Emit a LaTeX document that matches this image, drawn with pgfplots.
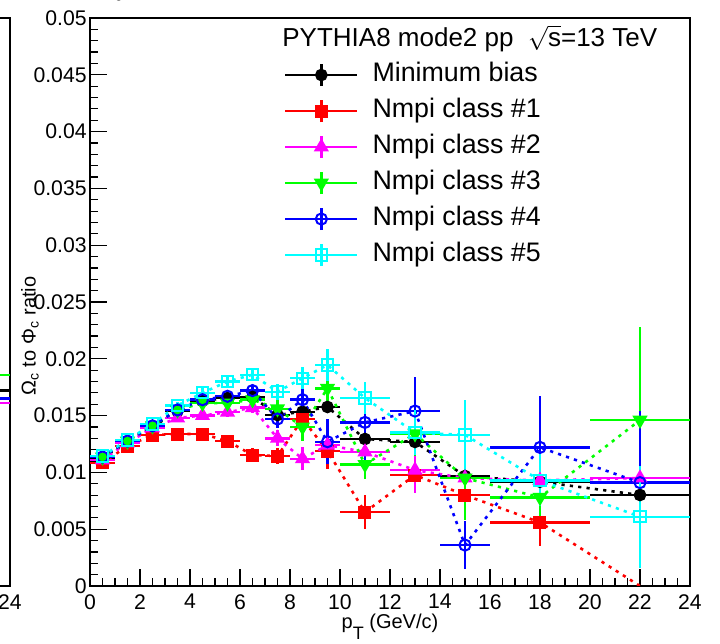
\documentclass[border=0pt]{standalone}
\usepackage{fontspec}
\setmainfont{Liberation Sans}
\usepackage{pgfplots}
\pgfplotsset{compat=1.18}
\usepackage{pgfplotstable}

\pgfplotstableread{
x y ex ey
0.5 0.01127 0.5 0.0002
1.5 0.01268 0.5 0.0002
2.5 0.01400 0.5 0.0002
3.5 0.01540 0.5 0.0002
4.5 0.01630 0.5 0.0002
5.5 0.01655 0.5 0.0003
6.5 0.01664 0.5 0.0003
7.5 0.01505 0.5 0.0003
8.5 0.01534 0.5 0.0004
9.5 0.01576 0.5 0.0004
11 0.01294 1 0.0004
13 0.01268 1 0.0005
15 0.00968 1 0.0006
18 0.00918 2 0.0005
22 0.00801 2 0.0006
}\mb

\pgfplotstableread{
x y ex ey
0.5 0.01083 0.5 0.0003
1.5 0.01232 0.5 0.0003
2.5 0.01329 0.5 0.0003
3.5 0.01338 0.5 0.0003
4.5 0.01338 0.5 0.0003
5.5 0.01276 0.5 0.0004
6.5 0.01153 0.5 0.0006
7.5 0.01144 0.5 0.0007
8.5 0.01470 0.5 0.0010
9.5 0.01188 0.5 0.0016
11 0.00650 1 0.0015
13 0.00977 1 0.0016
15 0.00800 1 0.0012
18 0.00560 2 0.0021
22 0.00000 0 0.0000
}\cA

\pgfplotstableread{
x y ex ey
0.5 0.0111 0.5 0.0003
1.5 0.0126 0.5 0.0003
2.5 0.0139 0.5 0.0003
3.5 0.0148 0.5 0.0003
4.5 0.0150 0.5 0.0003
5.5 0.0153 0.5 0.0004
6.5 0.0157 0.5 0.0005
7.5 0.0130 0.5 0.0007
8.5 0.0112 0.5 0.0010
9.5 0.0124 0.5 0.0015
11 0.0118 1 0.0013
13 0.0102 1 0.0020
15 0.0095 1 0.0025
18 0.0093 2 0.0030
22 0.0095 2 0.0040
}\cB

\pgfplotstableread{
x y ex ey
0.5 0.01136 0.5 0.0003
1.5 0.01276 0.5 0.0003
2.5 0.0141 0.5 0.0003
3.5 0.0155 0.5 0.0003
4.5 0.0161 0.5 0.0003
5.5 0.0161 0.5 0.0004
6.5 0.0164 0.5 0.0005
7.5 0.0156 0.5 0.0008
8.5 0.0140 0.5 0.0012
9.5 0.0174 0.5 0.0015
11 0.0107 1 0.0013
13 0.0134 1 0.0020
15 0.0095 1 0.0037
18 0.0078 2 0.0025
22 0.0146 2 0.0082
}\cC

\pgfplotstableread{
x y ex ey
0.5 0.01136 0.5 0.0003
1.5 0.01276 0.5 0.0003
2.5 0.0141 0.5 0.0003
3.5 0.0155 0.5 0.0003
4.5 0.0164 0.5 0.0003
5.5 0.0167 0.5 0.0004
6.5 0.0172 0.5 0.0005
7.5 0.0147 0.5 0.0008
8.5 0.0164 0.5 0.0010
9.5 0.0127 0.5 0.0020
11 0.0144 1 0.0035
13 0.0154 1 0.0030
15 0.0036 1 0.0021
18 0.0122 2 0.0045
22 0.0091 2 0.0063
}\cD

\pgfplotstableread{
x y ex ey
0.5 0.01144 0.5 0.0003
1.5 0.01285 0.5 0.0003
2.5 0.01426 0.5 0.0003
3.5 0.0159 0.5 0.0003
4.5 0.0170 0.5 0.0004
5.5 0.0180 0.5 0.0004
6.5 0.0186 0.5 0.0005
7.5 0.0171 0.5 0.0007
8.5 0.0183 0.5 0.0010
9.5 0.01945 0.5 0.0014
11 0.01655 1 0.0014
13 0.0135 1 0.0020
15 0.0133 1 0.0031
18 0.0093 2 0.0023
22 0.0061 2 0.0045
}\cE

\pgfplotstableread{
x y ex ey
22 0.0186 2 0.0005
}\lpA
\pgfplotstableread{
x y ex ey
22 0.0172 2 0.0005
}\lpB
\pgfplotstableread{
x y ex ey
22 0.0165 2 0.0005
}\lpC
\pgfplotstableread{
x y ex ey
22 0.0161 2 0.0005
}\lpD

\definecolor{rred}{RGB}{255,0,0}
\definecolor{rmag}{RGB}{255,0,255}
\definecolor{rgreen}{RGB}{0,255,0}
\definecolor{rblue}{RGB}{0,0,255}
\definecolor{rcyan}{RGB}{0,255,255}

\pgfplotsset{
  rootax/.style={
    width=300pt, height=284pt, scale only axis,
    xmin=0, xmax=24, ymin=0, ymax=0.05,
    axis line style={line width=1pt},
    tick align=inside, xtick pos=bottom, ytick pos=left,
    major tick length=8.5pt, minor tick length=4.2pt,
    every tick/.style={black, line width=0.6pt},
    xtick={0,2,4,6,8,10,12,14,16,18,20,22,24},
    xticklabels={0,2,4,6,8,10,12,14,16,18,20,22,24},
    minor x tick num=3,
    ytick={0,0.005,0.01,0.015,0.02,0.025,0.03,0.035,0.04,0.045,0.05},
    yticklabels={0,0.005,0.01,0.015,0.02,0.025,0.03,0.035,0.04,0.045,0.05},
    minor y tick num=4,
    /pgf/number format/assume math mode=true,
    ticklabel style={font=\fontsize{10.6}{12}\selectfont},
    xticklabel style={inner sep=1pt, yshift=-3pt},
    yticklabel style={inner sep=1.5pt},
    clip=true,
  },
  ser/.style={color=#1, line width=1.3pt, dash pattern=on 1.6pt off 2.6pt,
    /pgfplots/error bars/x dir=both, /pgfplots/error bars/x explicit,
    /pgfplots/error bars/y dir=both, /pgfplots/error bars/y explicit,
    /pgfplots/error bars/error mark=none,
    /pgfplots/error bars/error bar style={solid, line width=1.2pt, color=#1}},
}

\begin{document}
\begin{tikzpicture}
\begin{scope}
\clip (-45pt,-29pt) rectangle (315pt,293pt);
\begin{axis}[rootax, at={(-340pt,0pt)}, anchor=south west]
\addplot[ser=rgreen, mark=none] table[x=x, y=y, x error=ex, y error=ey] {\lpA};
\addplot[ser=black, mark=none] table[x=x, y=y, x error=ex, y error=ey] {\lpB};
\addplot[ser=rblue, mark=none] table[x=x, y=y, x error=ex, y error=ey] {\lpC};
\addplot[ser=rmag, mark=none] table[x=x, y=y, x error=ex, y error=ey] {\lpD};
\end{axis}
\end{scope}

\begin{axis}[rootax,
  xlabel={p\raisebox{-1.0ex}{\fontsize{9}{9}\selectfont T} (GeV/c)},
  ylabel={Ω\textsubscript{c} to Φ\textsubscript{c} ratio},
  label style={font=\fontsize{12}{14}\selectfont},
  every axis x label/.style={at={(axis description cs:0.5,-0.072)}, anchor=center},
  every axis y label/.style={at={(axis description cs:-0.1,0.44)}, rotate=90, anchor=center},
  legend image code/.code={
    \draw[#1, solid, line width=1.2pt] (0pt,0pt) -- (36pt,0pt);
    \draw[#1, solid, line width=1.2pt] (18pt,-5.5pt) -- (18pt,5.5pt);
    \draw[#1] plot coordinates {(18pt,0pt)};
  },
  legend style={at={(axis cs:7.75,0.0466)}, anchor=north west, draw=none, fill=none,
    font=\fontsize{13.4}{15}\selectfont, inner sep=0pt, row sep=0pt,
    nodes={inner sep=2pt, text height=10pt, text depth=4pt},
    /tikz/every odd column/.append style={column sep=5pt}},
  legend cell align=left,
]
\addplot[ser=black, mark=*, mark size=2.5pt, mark options={solid, fill=black}]
  table[x=x, y=y, x error=ex, y error=ey] {\mb};
\addlegendentry{Minimum bias}
\addplot[ser=rred, mark=square*, mark size=2.6pt, mark options={solid, fill=rred}, mark indices={1,...,14}]
  table[x=x, y=y, x error=ex, y error=ey] {\cA};
\addlegendentry{Nmpi class \#1}
\addplot[ser=rmag, mark=triangle*, mark size=3.1pt, mark options={solid, fill=rmag}]
  table[x=x, y=y, x error=ex, y error=ey] {\cB};
\addlegendentry{Nmpi class \#2}
\addplot[ser=rgreen, mark=triangle*, mark size=3.1pt, mark options={solid, fill=rgreen, rotate=180}]
  table[x=x, y=y, x error=ex, y error=ey] {\cC};
\addlegendentry{Nmpi class \#3}
\addplot[ser=rblue, mark=o, mark size=2.8pt, mark options={solid, line width=1pt}]
  table[x=x, y=y, x error=ex, y error=ey] {\cD};
\addlegendentry{Nmpi class \#4}
\addplot[ser=rcyan, mark=square, mark size=2.8pt, mark options={solid, line width=1pt}]
  table[x=x, y=y, x error=ex, y error=ey] {\cE};
\addlegendentry{Nmpi class \#5}
\node[anchor=west, font=\fontsize{13}{15}\selectfont, inner sep=0pt] at (axis cs:7.68,0.0482)
  {PYTHIA8 mode2 pp~~$\sqrt{\mbox{s}}$=13 TeV};
\end{axis}
\pgfresetboundingbox
\useasboundingbox (-45pt,-29pt) rectangle (315pt,293pt);
\end{tikzpicture}
\end{document}
